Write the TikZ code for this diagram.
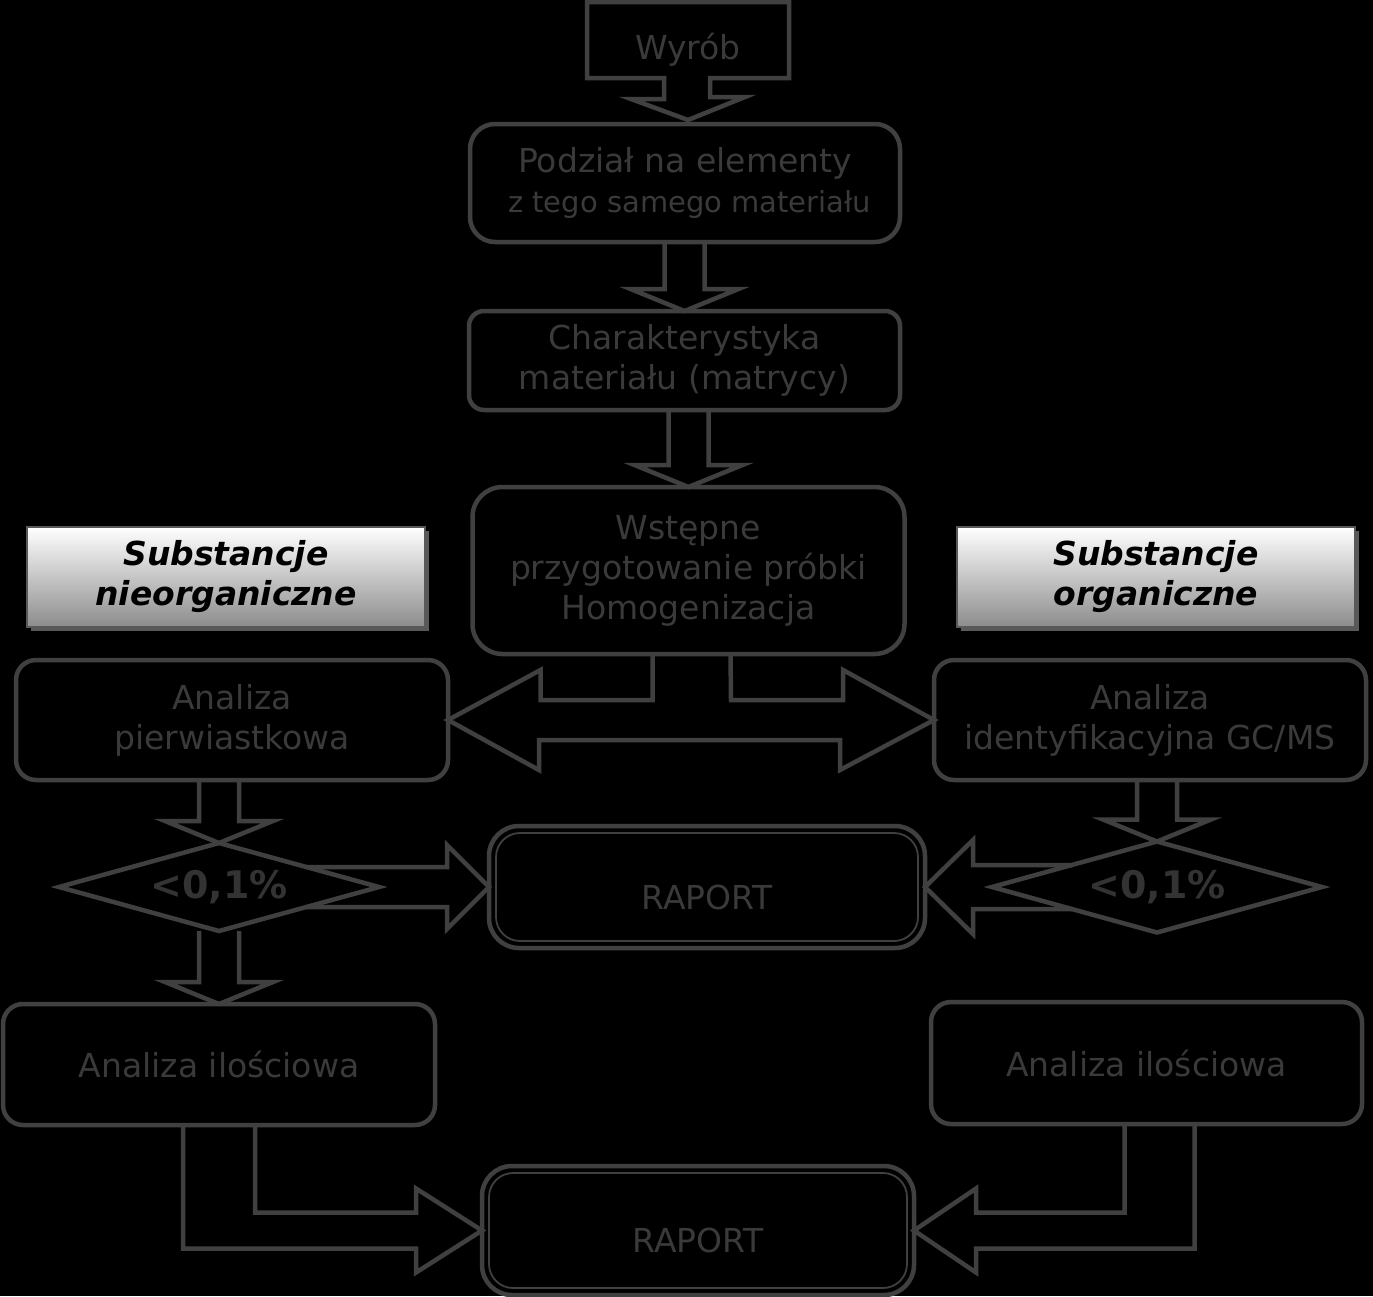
\documentclass[tikz,border=0pt]{standalone}
\usepackage{fontspec}
\setmainfont{DejaVu Sans}
\usetikzlibrary{calc,shapes.geometric,shadows}
\definecolor{linegray}{HTML}{404040}
\definecolor{textgray}{HTML}{3A3A3A}
% block arrow pointing down onto the top of node #2
\newcommand{\dnarrow}[2]{%
 \draw[blk] ($(#2.north |- #1.south)+(-20,0)$) -- ($(#2.north)+(-20,-22)$) -- ++(-34,0)
  -- (#2.north) -- ++(54,-22) -- ++(-34,0) -- ($(#2.north |- #1.south)+(20,0)$);}

\begin{document}
\begin{tikzpicture}[x=1pt,y=-1pt,
 every node/.style={align=center,inner sep=0pt,outer sep=0pt,text=textgray,
  font=\fontsize{33}{40}\selectfont},
 blk/.style={draw=linegray,line width=4.5pt,line join=miter},
 box/.style={draw=linegray,line width=4.5pt,rounded corners=20pt,
  minimum width=432pt,minimum height=120pt},
 raport/.style={box,minimum width=436pt,minimum height=122pt,rounded corners=30pt},
 thinline/.style={draw=linegray,line width=1.8pt,rounded corners=24pt},
 limit/.style={diamond,aspect=3.6,draw=linegray,line width=4.5pt,fill=black,
  font=\fontsize{38}{40}\selectfont\bfseries,text=black!80},
 subst/.style={draw=black!65,line width=1.5pt,top color=white,bottom color=black!45,
  minimum width=398pt,minimum height=100pt,text=black,
  font=\fontsize{33}{40}\selectfont\bfseries\itshape,
  drop shadow={shadow xshift=4pt,shadow yshift=-4pt,fill=black!65,opacity=1}}]
\fill[black] (0,0) rectangle (1373,1296);
\useasboundingbox (0,0) rectangle (1373,1296);

% nodes
\node (wyrob) at (688,40) [minimum width=202pt,minimum height=76pt] {\raisebox{-19pt}[0pt][0pt]{Wyrób}};
\node[box,minimum width=430pt,minimum height=118pt,rounded corners=25pt] (podzial) at (685,183)
 {Podział na elementy\\{\fontsize{29}{40}\selectfont\ z tego samego materiału}};
\node[box,minimum width=431pt,minimum height=99pt,rounded corners=15pt] (charak) at (684.5,360.5)
 {Charakterystyka\\materiału (matrycy)};
\node[box,minimum height=167pt,rounded corners=30pt] (wstepne) at (688.5,570.5)
 {Wstępne\\przygotowanie próbki\\Homogenizacja};
\node[subst] (nieorg) at (226,577) {Substancje\\nieorganiczne};
\node[subst] (org) at (1156,577) {Substancje\\organiczne};
\node[box] (pierw) at (232,720) {Analiza\\pierwiastkowa};
\node[box] (ident) at (1150,720) {Analiza\\identyfikacyjna GC/MS};
\node[limit,minimum width=320pt,minimum height=88pt] (dleft) at (219,887) {\textless0,1\%};
\node[limit,minimum width=330pt,minimum height=91pt] (dright) at (1157,887) {\textless0,1\%};
\node[raport] (raport1) at (707,887) {\raisebox{-22pt}[0pt][0pt]{RAPORT}};
\node[box,minimum height=121pt] (ilosc1) at (219,1064.5) {Analiza ilościowa};
\node[box,minimum width=431pt,minimum height=122pt] (ilosc2) at (1146.5,1063) {Analiza ilościowa};
\node[raport,minimum width=432pt,minimum height=129pt] (raport2) at (698,1230.5) {\raisebox{-22pt}[0pt][0pt]{RAPORT}};

% inner lines of the report boxes
\draw[thinline] ([shift={(7,7)}]raport1.north west) rectangle ([shift={(-7,-7)}]raport1.south east);
\draw[thinline] ([shift={(7,7)}]raport2.north west) rectangle ([shift={(-7,-7)}]raport2.south east);

% callout of the product box
\draw[blk] (wyrob.south west) -- (wyrob.north west) -- (wyrob.north east) -- (wyrob.south east)
 -- ($(wyrob.south)+(22,0)$) -- ++(0,19) -- ++(35,0) -- ($(wyrob.south |- podzial.north)+(0,-4)$)
 -- ++(-57,-21) -- ++(33,0) -- ($(wyrob.south)+(-24,0)$) -- cycle;

% block arrows
\dnarrow{podzial}{charak}
\dnarrow{charak}{wstepne}
\dnarrow{pierw}{dleft}
\dnarrow{dleft}{ilosc1}
\dnarrow{ident}{dright}
\draw[blk] ([xshift=-36pt]wstepne.south) -- ++(0,46) -- ++(-112,0) -- ++(0,-30) -- (pierw.east)
 -- ++(91,50) -- ++(0,-30) -- ++(301,0) -- ++(0,30) -- (ident.west) -- ++(-91,-50)
 -- ++(0,30) -- ++(-112,0) -- ([xshift=42pt]wstepne.south);
\draw[blk] ($(dleft.center)+(87,-20)$) -- ($(raport1.west)+(-42,-20)$) -- ++(0,-22)
 -- (raport1.west) -- ++(-42,42) -- ++(0,-22) -- ($(dleft.center)+(87,20)$);
\draw[blk] ($(dright.center)+(-85,-22)$) -- ($(raport1.east)+(48,-22)$) -- ++(0,-25)
 -- (raport1.east) -- ++(48,47) -- ++(0,-25) -- ($(dright.center)+(-85,22)$);
\draw[blk] ($(ilosc1.south)+(-36,0)$) |- ($(raport2.west)+(-66,18)$) -- ++(0,24)
 -- (raport2.west) -- ++(-66,-42) -- ++(0,24) -| ($(ilosc1.south)+(36,0)$);
\draw[blk] ($(ilosc2.south)+(48,0)$) |- ($(raport2.east)+(62,18)$) -- ++(0,24)
 -- (raport2.east) -- ++(62,-42) -- ++(0,24) -| ($(ilosc2.south)+(-22,0)$);
\end{tikzpicture}
\end{document}
